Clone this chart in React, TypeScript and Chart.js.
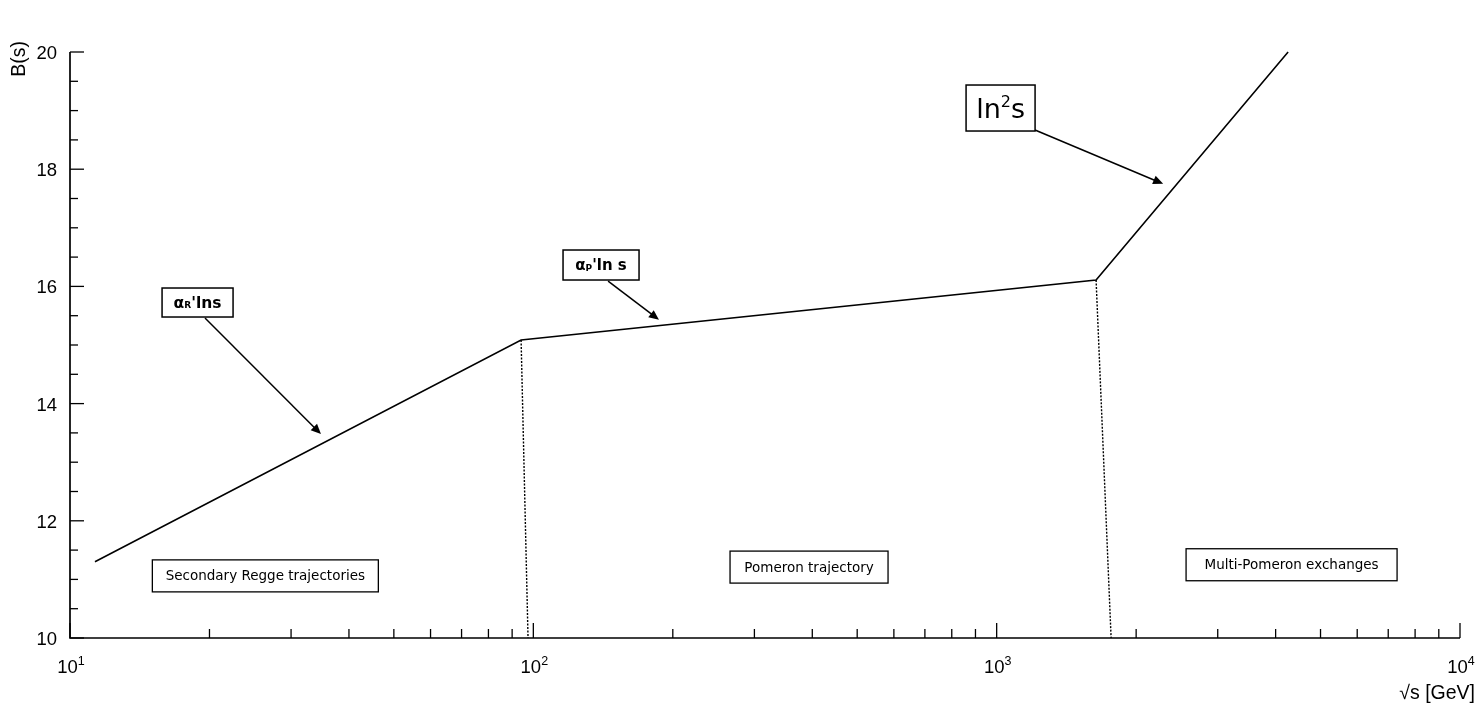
import { useEffect, useRef } from 'react';
import { Chart, registerables } from 'chart.js';

Chart.register(...registerables);

// ---- data ----
const curveX = [11.32, 94.1, 1639, 4256];
const curveY = [11.3, 15.085, 16.11, 20];

const pomeronEdgeX = [94.1, 97.4];
const pomeronEdgeY = [15.085, 10];
const multiEdgeX = [1639, 1766];
const multiEdgeY = [16.11, 10];

const xDecades = [10, 100, 1000, 10000];
const xTickBase = ['10', '10', '10', '10'];
const xTickExp = ['1', '2', '3', '4'];
const yTickValues = [10, 12, 14, 16, 18, 20];
const yTickLabels = ['10', '12', '14', '16', '18', '20'];

const regionLabels = ['Secondary Regge trajectories', 'Pomeron trajectory', 'Multi-Pomeron exchanges'];
const regionLabelX = [26.4, 393.6, 4330];
const regionLabelY = [11.06, 11.21, 11.25];

const slopeLabelX = [18.85, 140, 1019.6];
const slopeLabelY = [15.725, 16.365, 19.044];
const arrowFromX = [19.56, 145, 1210];
const arrowFromY = [15.46, 16.09, 18.67];
const arrowToX = [34.8, 186.7, 2287];
const arrowToY = [13.48, 15.43, 17.75];

type Seg = { t: string; kind?: 'sub' | 'sup' };
const slopeLabels: Seg[][] = [
  [{ t: 'α' }, { t: 'R', kind: 'sub' }, { t: "'lns" }],
  [{ t: 'α' }, { t: 'P', kind: 'sub' }, { t: "'ln s" }],
  [{ t: 'ln' }, { t: '2', kind: 'sup' }, { t: 's' }],
];

// ---- styles ----
const AXIS_FONT = '"Liberation Sans", Arial, sans-serif';
const BOX_FONT = '"DejaVu Sans", Verdana, sans-serif';
const slopeFontSize = [15.5, 15, 27];
const slopeBold = [true, true, false];
const slopeBoxSize = [
  [71, 29],
  [76, 30],
  [69, 46],
];
const regionBoxSize = [
  [226, 32],
  [158, 32],
  [211, 32],
];

function drawRich(ctx: CanvasRenderingContext2D, segs: Seg[], cx: number, cy: number, size: number, bold: boolean) {
  const w = bold ? 'bold ' : '';
  const mainFont = `${w}${size}px ${BOX_FONT}`;
  const smallFont = `${w}${Math.round(size * 0.6)}px ${BOX_FONT}`;
  const widths = segs.map((s) => {
    ctx.font = s.kind ? smallFont : mainFont;
    return ctx.measureText(s.t).width;
  });
  const total = widths.reduce((a, b) => a + b, 0);
  let x = cx - total / 2;
  const baseline = cy + size * 0.36;
  ctx.textAlign = 'left';
  ctx.textBaseline = 'alphabetic';
  segs.forEach((s, i) => {
    ctx.font = s.kind ? smallFont : mainFont;
    let y = baseline;
    if (s.kind === 'sup') y = baseline - size * 0.38;
    if (s.kind === 'sub') y = baseline + size * 0.02;
    ctx.fillText(s.t, x, y);
    x += widths[i];
  });
}

const axesPlugin = {
  id: 'customAxes',
  afterDraw(chart: any) {
    const ctx: CanvasRenderingContext2D = chart.ctx;
    const xs = chart.scales.x;
    const ys = chart.scales.y;
    const { left, right, top, bottom } = chart.chartArea;
    ctx.save();
    ctx.strokeStyle = '#000';
    ctx.fillStyle = '#000';
    ctx.lineWidth = 1.7;
    // axis lines
    ctx.beginPath();
    ctx.moveTo(left, top);
    ctx.lineTo(left, bottom);
    ctx.lineTo(right, bottom);
    ctx.stroke();

    ctx.lineWidth = 1.3;
    // y ticks (inward)
    for (let v = 10; v <= 20.001; v += 0.5) {
      const py = ys.getPixelForValue(v);
      const major = Math.abs(v - Math.round(v)) < 1e-6 && Math.round(v) % 2 === 0;
      ctx.beginPath();
      ctx.moveTo(left, py);
      ctx.lineTo(left + (major ? 14 : 8), py);
      ctx.stroke();
    }
    // x ticks (inward)
    xDecades.forEach((d, i) => {
      const px = xs.getPixelForValue(d);
      ctx.beginPath();
      ctx.moveTo(px, bottom);
      ctx.lineTo(px, bottom - 15);
      ctx.stroke();
      if (i < xDecades.length - 1) {
        for (let m = 2; m <= 9; m++) {
          const mx = xs.getPixelForValue(d * m);
          ctx.beginPath();
          ctx.moveTo(mx, bottom);
          ctx.lineTo(mx, bottom - 9);
          ctx.stroke();
        }
      }
    });

    // y tick labels
    ctx.font = `18.5px ${AXIS_FONT}`;
    ctx.textAlign = 'right';
    ctx.textBaseline = 'middle';
    yTickValues.forEach((v, i) => {
      ctx.fillText(yTickLabels[i], left - 13, ys.getPixelForValue(v) + 2);
    });

    // x tick labels with superscript exponent
    ctx.textAlign = 'left';
    ctx.textBaseline = 'alphabetic';
    xDecades.forEach((d, i) => {
      const px = xs.getPixelForValue(d);
      ctx.font = `18.5px ${AXIS_FONT}`;
      const wb = ctx.measureText(xTickBase[i]).width;
      ctx.font = `12.5px ${AXIS_FONT}`;
      const we = ctx.measureText(xTickExp[i]).width;
      const x0 = px - (wb + we) / 2 + 1;
      ctx.font = `18.5px ${AXIS_FONT}`;
      ctx.fillText(xTickBase[i], x0, bottom + 35);
      ctx.font = `12.5px ${AXIS_FONT}`;
      ctx.fillText(xTickExp[i], x0 + wb, bottom + 27);
    });

    // axis titles
    ctx.font = `19.5px ${AXIS_FONT}`;
    ctx.textAlign = 'right';
    ctx.fillText('√s [GeV]', right + 15, bottom + 61);
    ctx.save();
    ctx.translate(25, top + 7);
    ctx.rotate(-Math.PI / 2);
    ctx.textAlign = 'center';
    ctx.textBaseline = 'alphabetic';
    ctx.fillText('B(s)', 0, 0);
    ctx.restore();
    ctx.restore();
  },
};

const annotationPlugin = {
  id: 'annotations',
  afterDatasetsDraw(chart: any) {
    const ctx: CanvasRenderingContext2D = chart.ctx;
    const xs = chart.scales.x;
    const ys = chart.scales.y;
    ctx.save();
    ctx.strokeStyle = '#000';
    ctx.fillStyle = '#000';

    // arrows
    arrowFromX.forEach((_, i) => {
      const x1 = xs.getPixelForValue(arrowFromX[i]);
      const y1 = ys.getPixelForValue(arrowFromY[i]);
      const x2 = xs.getPixelForValue(arrowToX[i]);
      const y2 = ys.getPixelForValue(arrowToY[i]);
      const ang = Math.atan2(y2 - y1, x2 - x1);
      const hl = 10;
      const hw = 4.5;
      ctx.lineWidth = 1.5;
      ctx.beginPath();
      ctx.moveTo(x1, y1);
      ctx.lineTo(x2 - Math.cos(ang) * hl * 0.8, y2 - Math.sin(ang) * hl * 0.8);
      ctx.stroke();
      ctx.beginPath();
      ctx.moveTo(x2, y2);
      ctx.lineTo(x2 - Math.cos(ang) * hl - Math.sin(ang) * hw, y2 - Math.sin(ang) * hl + Math.cos(ang) * hw);
      ctx.lineTo(x2 - Math.cos(ang) * hl + Math.sin(ang) * hw, y2 - Math.sin(ang) * hl - Math.cos(ang) * hw);
      ctx.closePath();
      ctx.fill();
    });

    // slope label boxes
    slopeLabels.forEach((segs, i) => {
      const cx = xs.getPixelForValue(slopeLabelX[i]);
      const cy = ys.getPixelForValue(slopeLabelY[i]);
      const [w, h] = slopeBoxSize[i];
      ctx.fillStyle = '#fff';
      ctx.fillRect(cx - w / 2, cy - h / 2, w, h);
      ctx.lineWidth = 1.5;
      ctx.strokeRect(cx - w / 2, cy - h / 2, w, h);
      ctx.fillStyle = '#000';
      drawRich(ctx, segs, cx, cy, slopeFontSize[i], slopeBold[i]);
    });

    // region label boxes
    regionLabels.forEach((t, i) => {
      const cx = xs.getPixelForValue(regionLabelX[i]);
      const cy = ys.getPixelForValue(regionLabelY[i]);
      const [w, h] = regionBoxSize[i];
      ctx.fillStyle = '#fff';
      ctx.fillRect(cx - w / 2, cy - h / 2, w, h);
      ctx.lineWidth = 1.3;
      ctx.strokeRect(cx - w / 2, cy - h / 2, w, h);
      ctx.fillStyle = '#000';
      ctx.font = `13.5px ${BOX_FONT}`;
      ctx.textAlign = 'center';
      ctx.textBaseline = 'middle';
      ctx.fillText(t, cx, cy + 1);
    });
    ctx.restore();
  },
};

export default function App() {
  const ref = useRef<HTMLCanvasElement>(null);
  useEffect(() => {
    document.body.style.margin = '0';
    const canvas = ref.current;
    if (!canvas) return;
    const toPts = (xa: number[], ya: number[]) => xa.map((x, i) => ({ x, y: ya[i] }));
    const chart = new Chart(canvas, {
      type: 'scatter',
      data: {
        datasets: [
          {
            label: 'B(s)',
            data: toPts(curveX, curveY),
            showLine: true,
            borderColor: '#000',
            borderWidth: 1.6,
            pointRadius: 0,
            fill: false,
            clip: false as any,
          },
          {
            label: 'Pomeron boundary',
            data: toPts(pomeronEdgeX, pomeronEdgeY),
            showLine: true,
            borderColor: '#000',
            borderWidth: 1.4,
            borderDash: [2, 1.5],
            pointRadius: 0,
            fill: false,
          },
          {
            label: 'Multi-Pomeron boundary',
            data: toPts(multiEdgeX, multiEdgeY),
            showLine: true,
            borderColor: '#000',
            borderWidth: 1.4,
            borderDash: [2, 1.5],
            pointRadius: 0,
            fill: false,
          },
        ],
      },
      options: {
        responsive: false,
        animation: false,
        devicePixelRatio: 1,
        events: [],
        layout: { padding: { left: 70, top: 52, right: 21, bottom: 75 } },
        plugins: { legend: { display: false }, tooltip: { enabled: false } },
        scales: {
          x: { type: 'logarithmic', min: 10, max: 10000, display: false },
          y: { type: 'linear', min: 10, max: 20, display: false },
        },
      },
      plugins: [annotationPlugin, axesPlugin],
    });
    return () => chart.destroy();
  }, []);
  return (
    <div style={{ position: 'absolute', left: 0, top: 0, width: 1481, height: 713, background: '#fff' }}>
      <canvas ref={ref} width={1481} height={713} style={{ display: 'block', width: 1481, height: 713 }} />
    </div>
  );
}
